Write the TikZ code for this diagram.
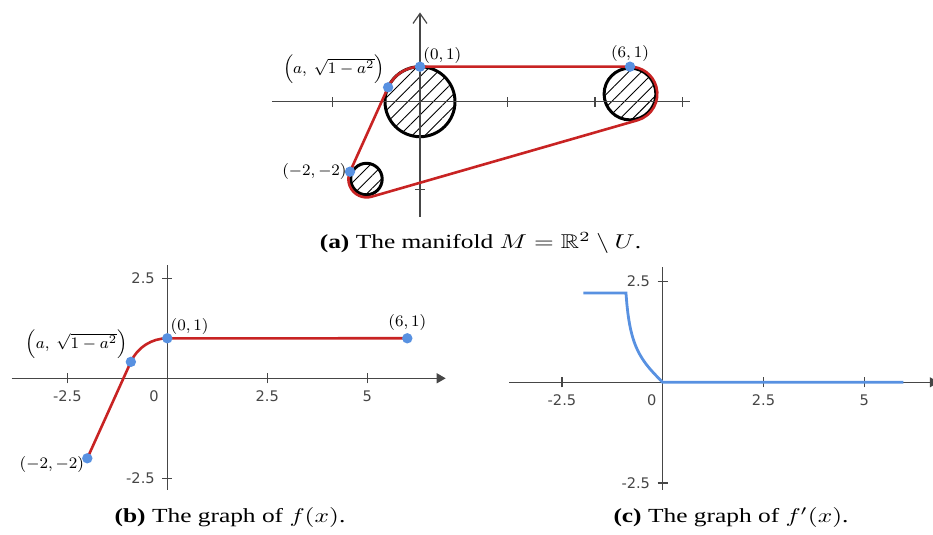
\documentclass[tikz,border=0pt]{standalone}
\usepackage{fontspec}
\usepackage{amssymb}
\setmainfont{Liberation Serif}
\newfontfamily\tickfont{DejaVu Sans}
\usetikzlibrary{arrows.meta,patterns.meta}
\definecolor{curvered}{RGB}{200,35,35}
\definecolor{dotblue}{RGB}{88,145,225}
\definecolor{axisgray}{RGB}{70,70,70}
\tikzset{
  axis/.style={axisgray,line width=0.6pt},
  hole/.style={line width=1.5pt,pattern={Lines[angle=45,distance=4.5pt,line width=0.45pt]}},
  curve/.style={curvered,line width=1.3pt},
  deriv/.style={dotblue,line width=1.4pt},
  ticklabel/.style={axisgray,font=\tickfont\fontsize{7.3}{8}\selectfont,inner sep=1pt},
  ptlabel/.style={font=\footnotesize,inner sep=1.5pt},
  caption/.style={font=\fontsize{10}{12}\selectfont}
}
\newcommand{\widecap}[1]{\scalebox{1.27}[1]{#1}}
\begin{document}
\begin{tikzpicture}[x=0.5pt,y=0.5pt]
  \useasboundingbox (0,0) rectangle (933,535);
  % (a) the manifold
  \begin{scope}[shift={(420,433.3)},x=17.5pt,y=17.5pt]
    \draw[hole] (0,0) circle (1);
    \draw[hole] (-1.53,-2.21) circle (0.45);
    \draw[hole] (6,0.22) circle (0.74);
    \draw[axis] (-4.23,0) -- (7.7,0);
    \draw[axis,-{Straight Barb[length=5pt,width=7pt]}] (0,-3.29) -- (0,2.55);
    \foreach \t in {-2.5,2.5,5,7.5}
      \draw[axis] (\t,-0.14) -- (\t,0.14);
    \draw[axis] (-0.14,-2.5) -- (0.14,-2.5);
    \draw[curve] (0,1) arc[start angle=90,end angle=155.7,radius=1] -- (-2,-2)
      arc[start angle=155.7,end angle=286,radius=0.52] -- (6.215,-0.53)
      arc[start angle=-74,end angle=90,radius=0.78] -- cycle;
    \fill[dotblue] (0,1) circle (2.6pt) node[ptlabel,above right,black] {$(0,1)$};
    \fill[dotblue] (6,1) circle (2.6pt) node[ptlabel,above,black,yshift=1pt] {$(6,1)$};
    \fill[dotblue] (-0.911,0.411) circle (2.6pt) node[ptlabel,above left,black] {$\left(a,\ \sqrt{1-a^2}\right)$};
    \fill[dotblue] (-2,-2) circle (2.6pt) node[ptlabel,left,black] {$(-2,-2)$};
  \end{scope}
  \node[caption] at (480.5,292) {\widecap{\textbf{(a)} The manifold $M=\mathbb{R}^2\setminus U$.}};
  % (b) graph of f
  \begin{scope}[shift={(167.3,156.7)},x=20pt,y=20pt]
    \draw[axis,-{Triangle[length=4.5pt,width=5pt]}] (-3.89,0) -- (6.96,0);
    \draw[axis] (0,-2.79) -- (0,2.83);
    \foreach \t in {-2.5,2.5,5}
      \draw[axis] (\t,-0.125) -- (\t,0.125) node[ticklabel] at (\t,-0.45) {\t};
    \node[ticklabel] at (-0.33,-0.45) {0};
    \foreach \t in {-2.5,2.5}
      \draw[axis] (-0.125,\t) -- (0.125,\t) node[ticklabel,anchor=east] at (-0.25,\t) {\t};
    \draw[curve] (-2,-2) -- (-0.911,0.411) arc[start angle=155.7,end angle=90,radius=1] -- (6,1);
    \fill[dotblue] (0,1) circle (2.6pt) node[ptlabel,above right,black] {$(0,1)$};
    \fill[dotblue] (6,1) circle (2.6pt) node[ptlabel,above,black,yshift=2pt] {$(6,1)$};
    \fill[dotblue] (-0.911,0.411) circle (2.6pt) node[ptlabel,above left,black] {$\left(a,\ \sqrt{1-a^2}\right)$};
    \fill[dotblue] (-2,-2) circle (2.6pt) node[ptlabel,left,black,yshift=-3pt] {$(-2,-2)$};
  \end{scope}
  \node[caption] at (230,17.5) {\widecap{\textbf{(b)} The graph of $f(x)$.}};
  % (c) graph of f'
  \begin{scope}[shift={(662.7,152.7)},x=20.15pt,y=20.15pt]
    \draw[axis,-{Triangle[length=4.5pt,width=5pt]}] (-3.81,0) -- (6.85,0);
    \draw[axis] (0,-2.67) -- (0,2.87);
    \foreach \t in {-2.5,2.5,5}
      \draw[axis] (\t,-0.125) -- (\t,0.125) node[ticklabel] at (\t,-0.45) {\t};
    \node[ticklabel] at (-0.27,-0.45) {0};
    \foreach \t in {-2.5,2.5}
      \draw[axis] (-0.125,\t) -- (0.125,\t) node[ticklabel,anchor=east] at (-0.25,\t) {\t};
    \draw[deriv] (-1.97,2.214) -- (-0.911,2.214)
      -- plot[domain=-0.911:0,samples=40] (\x,{-\x/sqrt(1-\x*\x)}) -- (5.97,0);
  \end{scope}
  \node[caption] at (731,17.5) {\widecap{\textbf{(c)} The graph of $f'(x)$.}};
\end{tikzpicture}
\end{document}
